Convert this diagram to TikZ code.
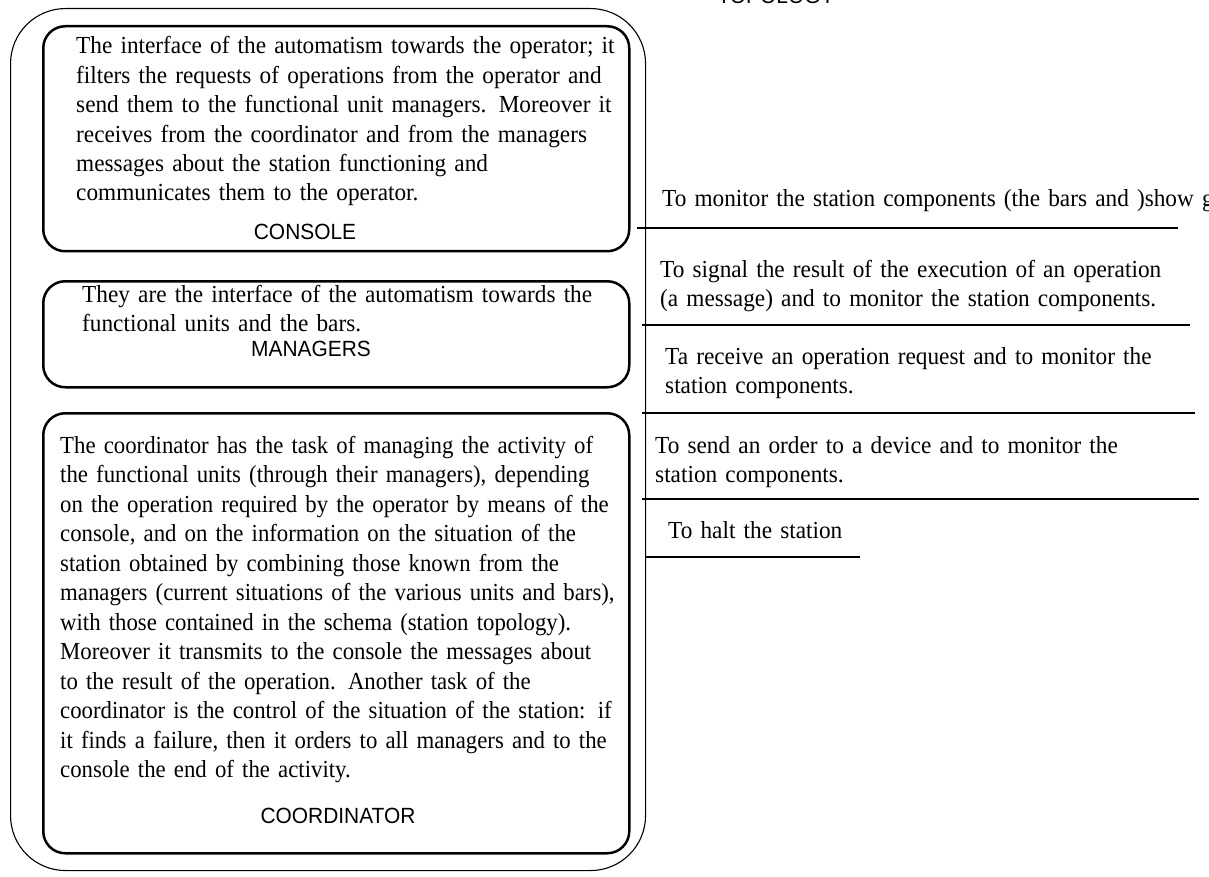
\documentclass[tikz,border=0pt]{standalone}
\usepackage{fontspec}
\setmainfont{Liberation Serif}
\setsansfont{Liberation Sans}
\newfontfamily\descfont[FakeStretch=0.95]{Liberation Serif}
\newfontfamily\coordfont[FakeStretch=0.93]{Liberation Serif}
\newfontfamily\labelfont[FakeStretch=0.95]{Liberation Sans}
\begin{document}
\begin{tikzpicture}[x=1pt,y=-1pt,
  outerbox/.style={draw=black,line width=1.1pt,rounded corners=55pt},
  unitbox/.style={draw=black,line width=2.5pt,rounded corners=22pt},
  desc/.style={anchor=base west,inner sep=0pt,align=left,text width=600pt,
    font=\descfont\fontsize{24.5pt}{29.4pt}\selectfont},
  cdesc/.style={desc,font=\coordfont\fontsize{24.5pt}{29.5pt}\selectfont},
  rdesc/.style={anchor=base west,inner sep=0pt,align=left,text width=700pt,
    font=\descfont\fontsize{24.5pt}{29pt}\selectfont},
  unitlabel/.style={anchor=base,inner sep=0pt,font=\labelfont\fontsize{22pt}{25pt}\selectfont},
  sep/.style={line width=2.5pt}]
\useasboundingbox (0,0) rectangle (1209,877);
\clip (0,0) rectangle (1209,877);
% outer container
\node[outerbox,minimum width=635pt,minimum height=862pt,anchor=north west,inner sep=0pt] (outer) at (10,8) {};
% console
\node[unitbox,minimum width=586pt,minimum height=225pt,anchor=north west,inner sep=0pt] (console) at (42,25) {};
\node[desc] (consoletext) at (76,54) {The interface of the automatism towards the operator; it\\
filters the requests of operations from the operator and\\
send them to the functional unit managers. Moreover it\\
receives from the coordinator and from the managers\\
messages about the station functioning and\\
communicates them to the operator.};
\node[unitlabel] (consolelabel) at (305,240) {CONSOLE};
% managers
\node[unitbox,minimum width=586pt,minimum height=106pt,anchor=north west,inner sep=0pt] (managers) at (42,280) {};
\node[desc] (managerstext) at (82,302) {They are the interface of the automatism towards the\\
functional units and the bars.};
\node[unitlabel] (managerslabel) at (311,356) {MANAGERS};
% coordinator
\node[unitbox,minimum width=586pt,minimum height=440pt,anchor=north west,inner sep=0pt] (coordinator) at (42,412) {};
\node[cdesc] (coordtext) at (60,453) {The coordinator has the task of managing the activity of\\
the functional units (through their managers), depending\\
on the operation required by the operator by means of the\\
console, and on the information on the situation of the\\
station obtained by combining those known from the\\
managers (current situations of the various units and bars),\\
with those contained in the schema (station topology).\\
Moreover it transmits to the console the messages about\\
to the result of the operation. Another task of the\\
coordinator is the control of the situation of the station: if\\
it finds a failure, then it orders to all managers and to the\\
console the end of the activity.};
\node[unitlabel] (coordlabel) at (338,823) {COORDINATOR};
% top label
\node[unitlabel] (topology) at (776,4) {TOPOLOGY};
% right side descriptions
\node[rdesc] (r1) at (662,207) {To monitor the station components (the bars and )show graphically};
\coordinate (l1a) at (637,228); \coordinate (l1b) at (1178,228);
\draw[sep] (l1a) -- (l1b);
\node[rdesc] (r2) at (660,277) {To signal the result of the execution of an operation\\
(a message) and to monitor the station components.};
\coordinate (l2a) at (642,325); \coordinate (l2b) at (1190,325);
\draw[sep] (l2a) -- (l2b);
\node[rdesc] (r3) at (665,364) {Ta receive an operation request and to monitor the\\
station components.};
\coordinate (l3a) at (642,413); \coordinate (l3b) at (1195,413);
\draw[sep] (l3a) -- (l3b);
\node[rdesc] (r4) at (655,453) {To send an order to a device and to monitor the\\
station components.};
\coordinate (l4a) at (642,499); \coordinate (l4b) at (1199,499);
\draw[sep] (l4a) -- (l4b);
\node[rdesc] (r5) at (668,538) {To halt the station};
\coordinate (l5a) at (645,557); \coordinate (l5b) at (860,557);
\draw[sep] (l5a) -- (l5b);
\end{tikzpicture}
\end{document}
